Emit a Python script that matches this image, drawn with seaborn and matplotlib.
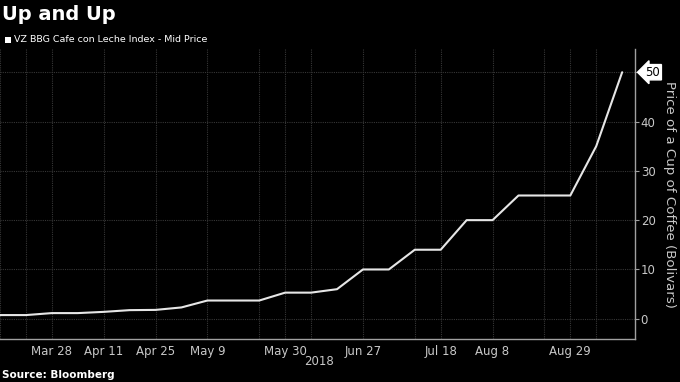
import matplotlib
matplotlib.use("Agg")
import matplotlib.pyplot as plt
from matplotlib.patches import Rectangle
from matplotlib.ticker import FixedLocator
import numpy as np
import pandas as pd
import seaborn as sns

# Datos (observaciones semanales)
dates = ["Mar 14", "Mar 21", "Mar 28", "Apr 4", "Apr 11", "Apr 18", "Apr 25",
         "May 2", "May 9", "May 16", "May 23", "May 30", "Jun 6", "Jun 13",
         "Jun 27", "Jul 4", "Jul 11", "Jul 18", "Jul 25", "Aug 8", "Aug 15",
         "Aug 22", "Aug 29", "Sep 5", "Sep 12"]
prices = [0.75, 0.75, 1.15, 1.15, 1.4, 1.75, 1.8, 2.3, 3.7, 3.7, 3.7, 5.3, 5.3,
          6.0, 10, 10, 14, 14, 20, 20, 25, 25, 25, 35, 50]
tick_labels = ["Mar 28", "Apr 11", "Apr 25", "May 9", "May 30", "Jun 27",
               "Jul 18", "Aug 8", "Aug 29"]
grid_dates = ["Mar 14", "Mar 21", "Mar 28", "Apr 11", "Apr 25", "May 9",
              "May 23", "May 30", "Jun 6", "Jun 27", "Jul 11", "Jul 18",
              "Aug 8", "Aug 22", "Aug 29", "Sep 5"]
y_ticks = [0, 10, 20, 30, 40, 50]

df = pd.DataFrame({"fecha": dates, "precio": prices})
df["pos"] = np.arange(len(df))

sns.set_style("dark")
plt.rcParams["font.family"] = ["DejaVu Sans"]

txt = "#c8c8c8"
fig = plt.figure(figsize=(6.8, 3.82), dpi=100, facecolor="black")
ax = fig.add_axes([0.0, 0.1126, 0.934, 0.759])
ax.set_facecolor("black")

# Rejilla punteada
for d in grid_dates:
    ax.axvline(dates.index(d), color="#363636", lw=0.8, ls=(0, (1, 1)), zorder=0)
for v in y_ticks:
    ax.axhline(v, color="#363636", lw=0.8, ls=(0, (1, 1)), zorder=0)

sns.lineplot(data=df, x="pos", y="precio", color="#e6e6e6", lw=1.5, ax=ax)

ax.set_xlim(0, 24.5)
ax.set_ylim(-4.1, 54.7)

for s in ["top", "left"]:
    ax.spines[s].set_visible(False)
for s in ["bottom", "right"]:
    ax.spines[s].set_color("#a0a0a0")
    ax.spines[s].set_linewidth(1.0)

ax.set_xticks([dates.index(t) for t in tick_labels])
ax.set_xticklabels(tick_labels)
ax.xaxis.set_minor_locator(FixedLocator(df["pos"]))
ax.tick_params(axis="x", which="both", direction="inout", length=4,
               color="#a0a0a0", labelcolor=txt, labelsize=8.5, pad=2)

ax.yaxis.tick_right()
ax.yaxis.set_label_position("right")
ax.set_yticks(y_ticks)
ax.set_yticklabels([str(v) if v != 50 else "" for v in y_ticks])
ax.tick_params(axis="y", direction="out", length=3, color="#a0a0a0",
               labelcolor=txt, labelsize=8.5, pad=1)
ax.set_xlabel("")
ax.set_ylabel("Price of a Cup of Coffee (Bolivars)", color=txt, fontsize=9.6,
              rotation=270, labelpad=15)

# Etiqueta del último valor
ax.text(24.9, prices[-1], str(int(prices[-1])), color="black", fontsize=8.5,
        va="center", ha="left", transform=ax.transData, clip_on=False,
        bbox=dict(boxstyle="larrow,pad=0.1", fc="white", ec="white"))

ax.text(12.3, -0.076, "2018", transform=ax.get_xaxis_transform(), color=txt,
        fontsize=8.5, ha="center", va="center")

fig.text(0.003, 0.962, "Up and Up", color="white", fontsize=14,
         fontweight="bold", ha="left", va="center")
fig.patches.append(Rectangle((0.007, 0.888), 0.0088, 0.0157,
                             transform=fig.transFigure, fc="white", ec="none"))
fig.text(0.021, 0.896, "VZ BBG Cafe con Leche Index - Mid Price", color="white",
         fontsize=6.8, ha="left", va="center")
fig.text(0.003, 0.018, "Source: Bloomberg", color="white", fontsize=7.5,
         fontweight="bold", ha="left", va="center")

fig.savefig("out.png", dpi=100, facecolor="black")
